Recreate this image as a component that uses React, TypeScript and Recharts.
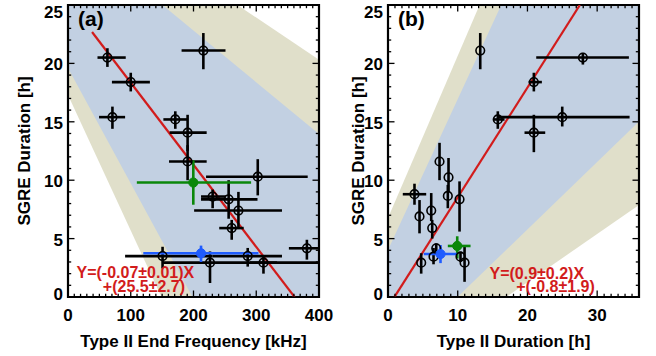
import React from 'react';
import {
  ComposedChart, XAxis, YAxis, Area, Scatter, ErrorBar,
  ReferenceLine, ReferenceArea, ReferenceDot,
} from 'recharts';

// ---------- Panel (a): SGRE duration vs Type II end frequency ----------
const aFreq = [62.8, 100, 70.8, 215.7, 171, 190.6, 190.6, 302.4, 230.5, 256, 271.6, 260.9, 380.7, 150.7, 286.4, 226.3, 311.5];
const aFreqLo = [47, 70, 49.5, 181, 152, 162, 161, 220, 212, 212, 201, 241, 352, 91, 230, 150.7, 290];
const aFreqHi = [92, 130.5, 91, 251, 190, 221, 221, 382, 252, 302, 341, 280, 400, 230, 341, 400, 333];
const aDur = [20.5, 18.4, 15.4, 21.1, 15.2, 14.07, 11.6, 10.3, 8.6, 8.36, 7.4, 5.9, 4.17, 3.5, 3.5, 2.94, 2.94];
const aDurLo = [19.7, 17.6, 14.4, 19.5, 14.4, 12.5, 10.0, 8.7, 7.6, 6.7, 5.9, 4.9, 3.2, 2.45, 2.6, 1.2, 2.0];
const aDurHi = [21.3, 19.2, 16.3, 22.6, 15.9, 15.6, 13.0, 11.8, 9.2, 10.0, 9.0, 6.6, 4.9, 4.3, 4.2, 3.9, 3.45];
// special events [x, xLo, xHi, y, yLo, yHi]
const aGreen = [199.7, 109.7, 291.8, 9.8, 7.9, 11.7];
const aBlue = [212, 120, 303.5, 3.74, 3.0, 4.4];
// confidence bands (values at band X ends)
const aBandX = [0, 400];
const aBlueLo = [19.6, -19.92];
const aBlueHi = [31.67, 13.95];
const aBeigeLo = [17.3, -29.14];
const aBeigeHi = [34.75, 20.31];
// fit Y = slope*X + intercept, drawn from start X
const aFit = { slope: -0.0703, intercept: 25.38, start: 38.3 };
const aXTicks = [0, 100, 200, 300, 400];
const aEq = ['Y=(-0.07\u00b10.01)X', '+(25.5\u00b12.7)'];

// ---------- Panel (b): SGRE duration vs Type II duration ----------
const bDurX = [13.23, 27.95, 20.92, 15.75, 24.99, 20.92, 7.39, 8.68, 8.58, 3.8, 10.26, 4.52, 6.2, 6.34, 6.92, 6.53, 4.76, 10.4, 10.98];
const bDurXLo = [13.23, 21.26, 20.16, 15.04, 15.75, 19.58, 7.39, 8.68, 8.58, 2.12, 10.26, 4.52, 6.2, 6.34, 6.92, 6.53, 4.76, 10.4, 10.98];
const bDurXHi = [13.23, 34.55, 22.07, 16.71, 34.65, 22.55, 7.39, 8.68, 8.58, 5.48, 10.26, 4.52, 6.2, 6.34, 6.92, 6.53, 4.76, 10.4, 10.98];
const bDur = [21.1, 20.5, 18.4, 15.2, 15.4, 14.07, 11.6, 10.25, 8.65, 8.8, 8.36, 6.9, 7.4, 5.9, 4.17, 3.45, 2.94, 3.45, 2.94];
const bDurLo = [19.5, 19.9, 17.6, 14.4, 14.6, 12.4, 10.0, 9.0, 7.6, 7.9, 5.6, 5.45, 6.5, 5.0, 3.8, 2.8, 2.0, 3.0, 1.3];
const bDurHi = [22.6, 20.9, 19.2, 15.9, 16.3, 15.6, 13.2, 11.9, 9.6, 9.7, 9.9, 8.3, 8.9, 6.6, 4.6, 4.2, 3.75, 3.9, 4.45];
const bGreen = [9.93, 8.58, 11.84, 4.37, 3.3, 5.2];
const bBlue = [7.53, 5.14, 9.93, 3.68, 2.9, 4.45];
const bBandX = [0, 36];
const bBlueLo = [-5.75, 15.02];
const bBlueHi = [4.02, 50.53];
const bBeigeLo = [-7.02, 7.88];
const bBeigeHi = [6.76, 56.76];
const bFit = { slope: 0.94, intercept: -0.87, start: 0.93 };
const bXTicks = [0, 10, 20, 30];
const bEq = ['Y=(0.9\u00b10.2)X', '+(-0.8\u00b11.9)'];

const yTicks = [0, 5, 10, 15, 20, 25];

const RED = '#d21c1c';
const BLUE_BAND = '#c2d0e2';
const BEIGE_BAND = '#e0dfca';
const GREEN = '#0a870a';
const BLUE_PT = '#1f5cff';
const FONT = '"Liberation Sans", Arial, Helvetica, sans-serif';

const PLOT_H = 292;

const toPoints = (x: number[], xl: number[], xh: number[], y: number[], yl: number[], yh: number[]) =>
  x.map((v, i) => ({ x: v, y: y[i], ex: [v - xl[i], xh[i] - v], ey: [y[i] - yl[i], yh[i] - y[i]] }));
const single = (p: number[]) => toPoints([p[0]], [p[1]], [p[2]], [p[3]], [p[4]], [p[5]]);

const OpenCircle = (p: any) => (
  <circle cx={p.cx} cy={p.cy} r={4.3} fill="none" stroke="#000" strokeWidth={1.6} />
);
const filled = (color: string) => (p: any) => (
  <circle cx={p.cx} cy={p.cy} r={4.6} fill={color} stroke={color} strokeWidth={1} />
);

// y tick labels: the end labels sit inside the frame, as in the reference
const YTick = (p: any) => {
  const v = p.payload.value;
  const dy = v === 25 ? 7 : v === 0 ? -3 : 1.5;
  return (
    <text x={p.x} y={p.y + dy} textAnchor="end" dominantBaseline="central"
      fontSize={17} fontWeight={700} fill="#000">{v}</text>
  );
};

type PanelProps = {
  left: number; width: number; yAxisWidth: number; marginRight: number;
  xDomain: [number, number]; xMajor: number[]; xMinorStep: number;
  bandX: number[]; blueLo: number[]; blueHi: number[]; beigeLo: number[]; beigeHi: number[];
  points: any[]; green: any[]; blue: any[];
  fit: { slope: number; intercept: number; start: number };
  xTitle: string; yTitleOffset: number;
  tag: string; tagX: number;
  eq: string[]; eqX: number[]; eqY: number[];
};

function Panel(props: PanelProps) {
  const {
    left, width, yAxisWidth, marginRight, xDomain, xMajor, xMinorStep,
    bandX, blueLo, blueHi, beigeLo, beigeHi, points, green, blue, fit,
    xTitle, yTitleOffset, tag, tagX, eq, eqX, eqY,
  } = props;
  const yDomain: [number, number] = [0, 25];
  const plotW = width - yAxisWidth - marginRight;
  const ux = (xDomain[1] - xDomain[0]) / plotW;
  const uy = (yDomain[1] - yDomain[0]) / PLOT_H;
  const bands = bandX.map((x, i) => ({ x, beige: [beigeLo[i], beigeHi[i]], blue: [blueLo[i], blueHi[i]] }));

  const xAt0 = (yDomain[0] - fit.intercept) / fit.slope;
  const xAt25 = (yDomain[1] - fit.intercept) / fit.slope;
  const fitEndX = Math.min(xDomain[1], Math.max(xAt0, xAt25));
  const fitSeg = [
    { x: fit.start, y: Math.min(yDomain[1], fit.slope * fit.start + fit.intercept) },
    { x: fitEndX, y: fit.slope * fitEndX + fit.intercept },
  ];

  const tickLines: any[] = [];
  const MAJ = 6.5, MIN = 3.2;
  const nx = Math.round((xDomain[1] - xDomain[0]) / xMinorStep);
  for (let i = 0; i <= nx; i++) {
    const v = xDomain[0] + i * xMinorStep;
    const len = (xMajor.includes(v) ? MAJ : MIN) * uy;
    tickLines.push(<ReferenceLine key={'xb' + i} segment={[{ x: v, y: yDomain[0] }, { x: v, y: yDomain[0] + len }]} stroke="#000" strokeWidth={1.3} ifOverflow="visible" />);
    tickLines.push(<ReferenceLine key={'xt' + i} segment={[{ x: v, y: yDomain[1] }, { x: v, y: yDomain[1] - len }]} stroke="#000" strokeWidth={1.3} ifOverflow="visible" />);
  }
  for (let i = 0; i <= 25; i++) {
    const v = i;
    const len = (yTicks.includes(v) ? MAJ : MIN) * ux;
    tickLines.push(<ReferenceLine key={'yl' + i} segment={[{ x: xDomain[0], y: v }, { x: xDomain[0] + len, y: v }]} stroke="#000" strokeWidth={1.3} ifOverflow="visible" />);
    tickLines.push(<ReferenceLine key={'yr' + i} segment={[{ x: xDomain[1], y: v }, { x: xDomain[1] - len, y: v }]} stroke="#000" strokeWidth={1.3} ifOverflow="visible" />);
  }

  const tickStyle = { fontSize: 17, fontWeight: 700, fill: '#000' };

  return (
    <div style={{ position: 'absolute', left, top: 0, width, height: 356 }}>
      <ComposedChart width={width} height={356} data={bands}
        margin={{ top: 5, right: marginRight, bottom: 0, left: 0 }}>
        <XAxis type="number" dataKey="x" domain={xDomain} allowDataOverflow ticks={xMajor} interval={0}
          tickLine={false} axisLine={false} tickSize={0} tickMargin={12} height={59} tick={tickStyle}
          label={{ value: xTitle, position: 'insideBottom', offset: 9, fontSize: 17, fontWeight: 700, fill: '#000' }} />
        <YAxis type="number" dataKey="y" domain={yDomain} allowDataOverflow ticks={yTicks} interval={0}
          tickLine={false} axisLine={false} tickSize={0} tickMargin={5} width={yAxisWidth} tick={<YTick />}
          label={{ value: 'SGRE Duration [h]', angle: -90, position: 'insideLeft', offset: yTitleOffset,
            style: { textAnchor: 'middle' }, fontSize: 17, fontWeight: 700, fill: '#000' }} />
        <Area dataKey="beige" type="linear" stroke="none" fill={BEIGE_BAND} fillOpacity={1}
          isAnimationActive={false} dot={false} activeDot={false} />
        <Area dataKey="blue" type="linear" stroke="none" fill={BLUE_BAND} fillOpacity={1}
          isAnimationActive={false} dot={false} activeDot={false} />
        <ReferenceLine segment={fitSeg} stroke={RED} strokeWidth={2.2} ifOverflow="hidden" />
        <Scatter data={points} shape={OpenCircle} isAnimationActive={false}>
          <ErrorBar dataKey="ex" direction="x" width={0} stroke="#000" strokeWidth={2.6} isAnimationActive={false} />
          <ErrorBar dataKey="ey" direction="y" width={0} stroke="#000" strokeWidth={2.6} isAnimationActive={false} />
        </Scatter>
        <Scatter data={green} shape={filled(GREEN)} isAnimationActive={false}>
          <ErrorBar dataKey="ex" direction="x" width={0} stroke={GREEN} strokeWidth={2.6} isAnimationActive={false} />
          <ErrorBar dataKey="ey" direction="y" width={0} stroke={GREEN} strokeWidth={2.6} isAnimationActive={false} />
        </Scatter>
        <Scatter data={blue} shape={filled(BLUE_PT)} isAnimationActive={false}>
          <ErrorBar dataKey="ex" direction="x" width={0} stroke={BLUE_PT} strokeWidth={2.6} isAnimationActive={false} />
          <ErrorBar dataKey="ey" direction="y" width={0} stroke={BLUE_PT} strokeWidth={2.6} isAnimationActive={false} />
        </Scatter>
        {tickLines}
        <ReferenceArea x1={xDomain[0]} x2={xDomain[1]} y1={yDomain[0]} y2={yDomain[1]}
          fill="none" fillOpacity={0} stroke="#000" strokeWidth={2.2} ifOverflow="visible" />
        <ReferenceDot x={xDomain[0] + tagX * ux} y={yDomain[1] - 14 * uy} r={0} fill="none" stroke="none" ifOverflow="visible"
          label={{ value: tag, position: 'right', offset: 0, fontSize: 21, fontWeight: 700, fill: '#000' }} />
        {eq.map((t, i) => (
          <ReferenceDot key={'eq' + i} x={eqX[i]} y={eqY[i]} r={0} fill="none" stroke="none" ifOverflow="visible"
            label={{ value: t, position: 'right', offset: 0, fontSize: 16, fontWeight: 700, fill: RED }} />
        ))}
      </ComposedChart>
    </div>
  );
}

export default function App() {
  const aPts = toPoints(aFreq, aFreqLo, aFreqHi, aDur, aDurLo, aDurHi);
  const bPts = toPoints(bDurX, bDurXLo, bDurXHi, bDur, bDurLo, bDurHi);
  return (
    <div style={{ position: 'absolute', left: 0, top: 0, width: 656, height: 356, background: '#fff', fontFamily: FONT, overflow: 'hidden' }}>
      <Panel left={0} width={345} yAxisWidth={68} marginRight={26}
        xDomain={[0, 400]} xMajor={aXTicks} xMinorStep={10}
        bandX={aBandX} blueLo={aBlueLo} blueHi={aBlueHi} beigeLo={aBeigeLo} beigeHi={aBeigeHi}
        points={aPts} green={single(aGreen)} blue={single(aBlue)} fit={aFit}
        xTitle="Type II End Frequency [kHz]" yTitleOffset={24}
        tag="(a)" tagX={10} eq={aEq} eqX={[13.5, 55.5]} eqY={[2.14, 0.94]} />
      <Panel left={330} width={326} yAxisWidth={58} marginRight={17}
        xDomain={[0, 36]} xMajor={bXTicks} xMinorStep={1}
        bandX={bBandX} blueLo={bBlueLo} blueHi={bBlueHi} beigeLo={bBeigeLo} beigeHi={bBeigeHi}
        points={bPts} green={single(bGreen)} blue={single(bBlue)} fit={bFit}
        xTitle="Type II Duration [h]" yTitleOffset={28}
        tag="(b)" tagX={10} eq={bEq} eqX={[14.56, 18.39]} eqY={[2.03, 0.88]} />
    </div>
  );
}
